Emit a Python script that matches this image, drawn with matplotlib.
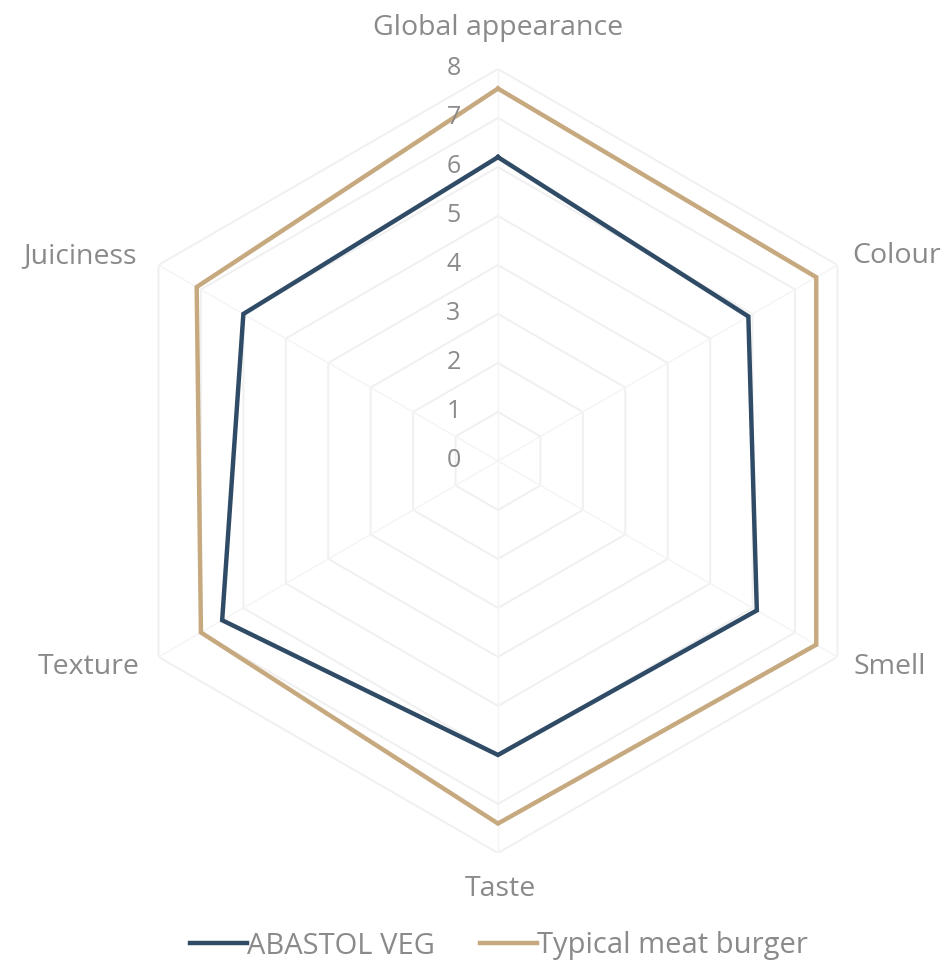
import numpy as np
import matplotlib
matplotlib.use("Agg")
import matplotlib.pyplot as plt

# Sensory attributes, clockwise from the top
categories = ["Global appearance", "Colour", "Smell", "Taste", "Texture", "Juiciness"]
abastol_veg = [6.2, 5.9, 6.1, 6.0, 6.5, 6.0]
typical_meat = [7.6, 7.5, 7.5, 7.4, 7.0, 7.1]
series_names = ["ABASTOL VEG", "Typical meat burger"]
tick_values = [0, 1, 2, 3, 4, 5, 6, 7, 8]

plt.rcParams["font.family"] = ["Open Sans", "DejaVu Sans"]

TEXT = "#8a8a8a"
GRID = "#f0f0f0"
BLUE = "#2f4b66"
TAN = "#c6a97e"

fig = plt.figure(figsize=(9.48, 9.68), dpi=100)
ax = fig.add_axes([0.1118, 0.1188, 0.827, 0.81], projection="polar")
ax.set_theta_offset(np.pi / 2)
ax.set_theta_direction(-1)
ax.set_ylim(0, 8)
ax.grid(False)
ax.spines["polar"].set_visible(False)
ax.set_xticks([])
ax.set_yticks([])
ax.patch.set_alpha(0)

n = len(categories)
angles = np.linspace(0, 2 * np.pi, n, endpoint=False)
closed = np.append(angles, angles[0])

# Hexagonal grid rings and spokes
for v in tick_values[1:]:
    ax.plot(closed, [v] * (n + 1), color=GRID, lw=1.4, zorder=1)
for a in angles:
    ax.plot([a, a], [0, 8], color="#f4f4f4", lw=1.0, zorder=1)

# Value labels along the top spoke
for v in tick_values:
    ax.annotate(str(v), xy=(0, v), xytext=(-32, 0), textcoords="offset points",
                ha="center", va="center", fontsize=18, color=TEXT)

h1, = ax.plot(closed, abastol_veg + abastol_veg[:1], color=BLUE, lw=3.2,
              solid_joinstyle="miter", zorder=3)
h2, = ax.plot(closed, typical_meat + typical_meat[:1], color=TAN, lw=3.2,
              solid_joinstyle="miter", zorder=2)

# Category labels around the chart
label_pos = [(498, 28), (897, 256), (890, 667), (500, 889), (89, 667), (80, 256)]
for name, (px, py) in zip(categories, label_pos):
    fig.text(px / 948, 1 - py / 968, name, ha="center", va="center",
             fontsize=20.5, color=TEXT)

fig.legend([h1, h2], series_names, loc="center", bbox_to_anchor=(0.526, 1 - 946 / 968),
           ncol=2, frameon=False, fontsize=21, labelcolor=TEXT, handlelength=1.95,
           handletextpad=0.0, columnspacing=1.55, borderpad=0, borderaxespad=0)

fig.savefig("out.png", dpi=100, facecolor="white")
